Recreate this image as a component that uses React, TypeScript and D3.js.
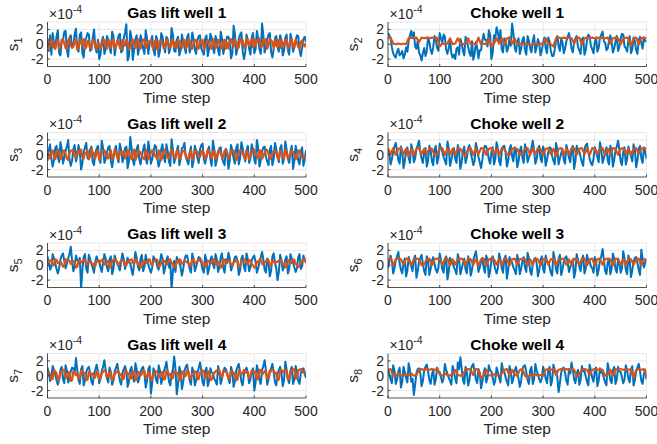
import React from "react";
import * as d3 from "d3";

// values in units of 1e-4; each series is evenly sampled over time steps 0..500
const X_MAX = 500;
const titles = ["Gas lift well 1", "Choke well 1", "Gas lift well 2", "Choke well 2", "Gas lift well 3", "Choke well 3", "Gas lift well 4", "Choke well 4"];
const yTicks = [-2, 0, 2];
const xTicks = [0, 100, 200, 300, 400, 500];

const blue1 = [0.8,-0.9,1.2,-1.4,1.5,0.2,-0.6,1.1,1.9,-1.2,-1.5,0.4,0.6,1.7,1.8,-0.8,-1.7,0.9,1.2,-0.5,
-0.3,1.4,2.1,-0.6,-1.0,1.3,1.6,-1.2,-1.8,0.5,0.9,1.5,1.3,-0.9,-0.7,0.8,2.0,-0.4,-1.1,0.6,
-2.0,-1.4,0.5,1.0,-1.3,-0.6,1.1,0.7,-0.4,-1.2,1.7,1.1,-1.5,-0.3,0.3,1.2,1.4,-1.1,-0.9,0.8,
1.6,2.7,-2.2,-1.6,1.8,0.9,-2.1,-0.7,0.7,1.2,-1.4,-0.5,1.2,0.6,-0.6,-1.3,1.9,0.8,-1.3,0.2,
0.4,1.1,-0.8,-1.5,1.1,0.6,-1.7,-0.9,1.5,1.0,-0.2,-1.1,1.0,0.7,-1.2,-0.6,2.2,1.3,-0.9,-1.0,
0.6,1.0,-1.5,-0.8,1.3,0.4,-0.4,-1.2,0.9,1.4,-1.1,-0.5,1.6,0.7,-0.7,-1.3,0.5,1.1,1.2,-0.6,
-1.0,-1.4,0.8,1.2,-1.6,-0.7,1.4,0.9,-0.5,-1.2,1.1,0.5,-0.8,-1.5,1.7,0.8,-1.3,-0.4,0.4,1.0,
1.0,0.3,-1.9,-1.2,2.5,1.4,-1.4,-0.6,0.7,1.3,1.6,-0.9,-2.0,-1.1,1.3,0.5,-0.6,-1.4,0.9,1.5,
-1.2,-0.7,1.8,0.8,-0.7,-1.3,2.8,1.2,-1.1,-0.4,0.6,1.3,1.5,-1.0,-1.8,-0.6,0.8,1.1,-0.4,-1.0,
1.2,0.5,-1.5,-0.9,0.9,1.3,-0.8,-1.4,1.4,0.6,-1.0,-0.3,0.5,1.2,1.1,-0.8,-1.6,-0.5,0.7,1.0,0.3];
const orange1 = [0.5,-0.6,-0.2,0.7,0.4,-0.4,-0.6,0.2,0.6,-0.7,-0.3,0.6,0.7,0.1,-0.5,-0.6,0.5,0.8,-0.2,-0.4,
-0.3,0.4,0.6,-0.7,-0.5,0.6,0.3,-0.2,0.7,-0.6,-0.4,0.5,0.3,-0.6,-0.1,0.6,0.5,-0.4,-0.7,0.2,
0.1,-0.6,-0.2,0.7,0.5,-0.3,-0.6,0.6,0.4,-0.5,0.2,0.7,-0.6,-0.3,0.5,0.4,-0.5,-0.7,0.6,0.2,
-0.2,0.6,0.3,-0.7,-0.4,0.3,0.6,-0.1,-0.5,0.5,0.7,-0.4,-0.6,0.2,0.5,0.7,-0.5,-0.3,0.4,0.2,
0.6,-0.3,-0.6,0.4,0.6,-0.7,-0.3,0.5,0.4,0.1,-0.6,-0.4,0.7,0.3,-0.2,-0.5,0.6,0.3,-0.4,0.3,
-0.5,0.6,0.4,-0.1,-0.5,0.4,0.6,-0.6,-0.3,0.7,0.5,-0.3,-0.6,0.2,0.5,0.6,-0.4,-0.6,0.5,0.2,
0.6,-0.7,-0.3,0.3,0.6,0.1,-0.4,-0.6,0.7,0.4,-0.5,-0.2,0.6,0.3,-0.2,-0.6,0.4,0.6,-0.6,0.2,
-0.6,0.5,0.7,0.2,-0.3,0.6,0.2,-0.6,-0.4,0.8,0.4,0.6,-0.5,-0.2,0.6,0.7,-0.2,0.3,0.7,-0.4,
0.7,-0.2,0.5,0.6,0.8,-0.4,-0.3,0.6,0.2,0.7,-0.6,-0.1,0.7,0.5,0.3,-0.5,0.6,-0.2,-0.3,0.6,
-0.5,0.6,-0.3,0.2,0.4,0.7,-0.6,-0.3,0.5,0.6,-0.2,-0.4,0.6,0.2,-0.4,-0.6,0.3,0.5,0.1,-0.3,0.1];
const blue2 = [1.5,1.2,0.8,-0.4,-1.2,-1.6,-1.8,-1.0,-0.6,-1.5,-1.3,-0.9,-1.9,-1.4,-0.4,-1.0,0.5,1.2,1.8,0.9,
1.6,-0.3,-0.6,0.5,-1.1,-1.5,-2.2,-1.2,-0.5,-1.6,-0.9,0.9,0.3,-0.8,-1.3,-0.4,1.1,0.6,-0.5,-0.9,
1.5,0.8,0.2,1.3,1.0,-0.7,-1.3,-0.5,0.6,-1.2,-1.8,-1.4,-2.0,-0.6,-0.4,-1.4,0.7,0.2,-0.9,-1.5,
1.0,0.4,-0.3,-1.2,-1.6,0.4,-2.1,-1.3,0.3,-0.5,-1.9,-0.8,-0.8,0.5,1.4,0.6,0.6,-0.3,1.9,1.2,
-2.0,-1.2,1.2,0.8,2.3,1.6,0.5,1.9,-0.7,-1.1,0.8,0.3,-1.0,-0.5,0.9,-0.2,2.8,1.5,-0.4,-1.0,
0.3,0.8,-1.3,-0.6,0.6,1.0,-0.8,-1.4,1.1,0.5,-0.6,-1.1,0.4,1.2,-1.1,-0.4,0.7,0.1,-1.5,-0.8,
0.2,0.9,-0.5,-1.2,0.9,0.4,-0.9,-1.6,-1.6,-0.7,0.5,1.1,-0.3,-0.9,0.8,0.3,-1.2,-0.6,0.4,1.0,
1.5,0.7,-0.6,-1.1,0.2,0.8,1.1,-0.4,-0.8,-1.3,0.7,0.9,-1.4,-0.8,0.6,1.3,1.0,-0.2,-0.7,-1.2,
0.3,0.9,-1.0,-0.5,0.9,1.3,1.7,0.4,0.2,-0.8,-0.6,0.5,1.2,0.3,-1.1,-0.6,0.4,1.1,-0.9,-0.4,
0.8,1.4,1.3,-0.3,-0.5,-1.0,0.6,1.1,-1.2,-0.7,0.9,0.4,-0.8,-1.3,0.6,1.0,0.2,-0.6,0.9,0.4,0.5];
const orange2 = [0.8,0.9,0.1,0.0,0.1,0.0,0.1,0.0,0.8,0.9,0.8,0.9,0.3,0.9,0.8,0.9,0.8,0.9,0.8,0.9,-0.3,0.1,0.0,0.1,0.8,0.0,0.1,0.8,0.1,0.0,0.1,0.8,0.0,0.1,0.0,0.9,0.0,0.1,0.0,0.8,-0.3,0.1,0.8,0.1,0.8,0.0,0.8,0.9,0.1,0.8,0.0,0.1,0.0,0.1,0.0,-0.1,0.0,0.1,0.0,0.1,0.0,0.8,0.1,0.0,-0.3,0.8,0.9,0.8,0.9,0.8,0.9,0.8,0.1,0.8,0.9,0.0,0.8,0.9,0.8,0.9,0.8,0.9,0.8,0.9,0.8,0.9,0.1,0.8,0.9,0.8,0.0,0.8,0.9,0.8,-0.2,0.8,0.9,0.0,0.8,0.9,0.8];
const blue3 = [-0.8,0.6,1.4,-0.5,-1.6,-0.7,0.9,1.2,-0.3,-1.0,1.7,0.8,-1.2,-0.4,0.5,1.1,2.0,-0.6,-1.5,-0.8,
0.7,1.3,-0.9,-0.2,1.3,0.4,-2.0,-1.1,0.4,1.0,1.6,-0.5,-0.6,0.7,1.1,-1.0,-1.4,0.3,0.8,1.2,
-0.5,-1.1,1.9,0.9,-1.1,-0.6,0.3,1.0,1.2,-0.8,-1.7,-0.5,0.6,1.2,-0.4,-1.0,1.5,0.6,-1.0,-0.3,
0.9,1.1,-1.8,-0.9,2.4,1.0,-0.7,-1.4,0.2,0.8,1.3,-0.6,-1.3,-0.2,0.7,1.4,-0.5,-1.2,1.8,0.6,
-1.2,-0.6,0.4,1.3,1.1,-0.5,-1.6,-0.9,0.8,1.4,-0.3,-1.0,1.4,0.5,-0.9,-1.5,2.1,0.7,-1.1,-0.4,
0.5,1.2,-1.4,-0.6,0.9,1.0,1.6,-0.3,-0.8,-1.3,0.3,1.1,-1.7,-0.8,1.2,0.5,-0.4,-1.1,0.7,1.3,
1.5,-0.6,-1.2,-0.3,0.6,1.1,-0.6,-1.5,1.9,0.8,-1.5,-0.7,0.2,0.9,1.0,-0.4,-1.0,-1.4,0.8,0.3,
-1.9,-0.8,1.3,0.6,-0.5,-1.2,0.9,1.4,-1.3,-0.5,1.7,0.9,-0.2,-0.9,0.6,1.2,-1.1,-0.5,1.4,0.7,
-0.7,-1.2,2.0,0.9,-1.6,-0.8,0.4,1.0,1.1,-0.3,-0.9,-1.4,0.7,1.2,-1.4,-0.6,1.6,0.8,-0.3,-1.0,
0.9,1.3,-1.2,-0.5,1.8,0.7,-0.6,-1.1,0.5,1.2,-1.9,-0.8,1.2,0.4,-0.8,-1.3,0.4,1.0,-1.5,-0.6,0.6];
const orange3 = [0.3,-0.4,-0.5,0.4,0.6,-0.2,-0.6,0.3,0.7,0.1,-0.6,-0.3,0.4,0.6,0.1,-0.5,-0.7,0.2,0.5,0.6,
0.6,-0.2,-0.4,0.5,0.2,0.6,0.7,-0.3,-0.5,0.2,0.3,0.6,-0.6,-0.2,0.8,0.3,-0.1,-0.5,0.4,0.6,
-0.7,-0.3,0.5,0.6,0.6,0.1,-0.3,-0.5,0.2,0.6,-0.6,-0.2,0.7,0.3,-0.4,-0.6,0.5,0.2,0.1,0.5,
-0.5,-0.2,0.6,0.4,-0.2,-0.6,0.4,0.7,-0.7,-0.3,0.6,0.4,0.3,-0.2,-0.4,-0.6,0.7,0.3,-0.6,-0.1,
0.2,0.6,0.5,-0.1,-0.3,-0.6,0.6,0.3,-0.7,-0.2,0.4,0.7,0.1,-0.4,-0.5,0.3,0.7,0.2,-0.2,-0.5,
0.5,0.6,-0.6,-0.3,0.3,0.5,0.6,-0.2,-0.4,-0.6,0.2,0.6,-0.7,-0.2,0.5,0.6,0.4,-0.3,-0.3,0.2,
0.6,0.2,-0.5,-0.3,0.7,0.4,-0.1,-0.5,0.3,0.6,-0.6,-0.2,0.5,0.6,0.2,-0.3,-0.4,0.5,0.7,0.3,
-0.5,-0.2,0.4,0.6,0.6,0.1,-0.7,-0.3,0.2,0.6,0.5,0.3,-0.3,-0.6,0.6,0.2,-0.6,-0.3,0.4,0.6,
0.7,0.2,-0.2,-0.5,0.5,0.6,-0.5,-0.2,0.3,0.7,0.6,0.1,-0.6,-0.3,0.1,0.5,0.5,0.3,-0.4,-0.6,
0.6,0.3,-0.3,-0.5,0.7,0.2,-0.5,-0.2,0.2,0.6,0.4,-0.1,-0.6,-0.3,0.5,0.6,-0.1,-0.4,-0.5,-0.2,-0.3];
const blue4 = [0.9,0.2,-1.3,-0.6,0.4,1.1,1.6,0.5,-0.7,-1.2,1.1,0.6,-1.8,-0.9,0.6,1.0,-0.4,-1.1,1.4,0.7,
-1.0,-0.5,0.8,1.3,1.9,0.4,-0.5,-1.1,0.3,0.9,-1.6,-0.8,1.2,0.6,-0.9,-1.4,0.7,1.2,-1.2,-0.4,
1.5,0.8,0.4,-0.3,-0.8,-1.3,1.8,0.9,-1.5,-0.7,0.2,0.9,-0.6,-1.1,1.3,0.5,-1.9,-1.0,0.5,1.1,
-1.1,-0.4,0.9,1.3,0.3,-0.5,-1.4,-0.8,1.6,0.7,-0.3,-1.0,-1.8,-0.7,0.7,1.2,1.1,0.4,-0.6,-1.2,
0.4,1.0,-1.3,-0.6,1.7,0.8,-0.9,-1.4,0.5,1.1,1.2,0.3,-1.6,-0.8,0.8,1.3,-0.2,-0.9,1.0,0.6,
-1.7,-0.9,0.6,1.1,-0.4,-1.1,1.4,0.7,-1.0,-0.4,0.3,0.9,1.9,0.6,-1.2,-0.6,0.7,1.2,-0.5,-1.0,
1.1,0.5,-1.5,-0.7,0.4,1.0,0.9,-0.2,-0.8,-1.3,1.6,0.7,-1.3,-0.5,0.2,0.8,-0.7,-1.2,1.3,0.6,
-0.4,-1.0,0.8,1.2,-1.9,-0.9,1.2,0.5,0.5,-0.3,-1.0,-1.5,0.7,1.3,1.5,0.4,-0.6,-1.1,-1.4,-0.5,
1.0,0.4,-0.3,-1.0,1.7,0.8,-1.1,-0.5,0.4,1.0,-0.8,-1.3,1.2,0.6,-1.6,-0.7,0.6,1.1,1.9,0.7,
-0.9,-1.4,0.5,1.0,-1.3,-0.6,1.1,0.5,-0.2,-0.9,1.4,0.7,-1.7,-0.8,0.8,1.2,-0.5,-1.1,1.0,0.4,-0.6];
const orange4 = [0.8,0.1,0.9,0.0,0.8,0.9,0.1,0.8,-0.3,0.8,0.0,0.8,0.9,0.1,0.8,0.0,0.9,0.8,0.0,0.1,0.8,0.9,0.0,0.8,0.1,0.8,0.0,0.9,0.8,0.1,-0.2,0.8,0.9,0.0,0.8,0.1,0.9,0.8,0.0,0.8,0.9,0.1,0.8,0.0,0.9,0.8,0.1,0.0,0.8,0.9,0.8,0.0,0.1,0.8,0.9,0.0,0.8,0.1,0.9,0.8,0.0,0.8,0.9,0.1,0.8,-0.2,0.8,0.9,0.0,0.8,0.1,0.8,0.9,0.0,0.8,0.9,0.1,0.8,0.0,0.9,0.8,0.1,0.8,0.9,0.0,0.8,0.1,0.9,0.8,0.0,0.8,0.9,0.1,0.8,0.0,0.8,0.9,0.1,0.8,0.9,0.8];
const blue5 = [1.2,0.4,-0.6,-0.2,1.5,0.9,0.3,-0.5,-1.1,-0.4,0.8,1.3,1.6,0.6,-0.4,0.2,0.9,1.5,2.5,0.7,
-0.8,-0.2,1.3,0.7,0.5,1.0,-3.2,-0.6,1.1,1.5,-0.5,-1.0,1.4,0.8,0.2,-0.4,-1.0,0.5,1.2,0.6,
0.6,-0.3,-0.9,0.4,1.5,0.9,-0.3,-0.8,0.8,1.2,-1.2,-0.5,1.3,0.7,0.4,-0.2,-0.7,0.6,1.6,0.8,
-0.5,0.3,1.0,0.4,0.3,-0.6,-1.3,0.2,1.8,1.0,-0.2,-0.7,0.9,1.4,-0.8,-0.2,1.4,0.6,0.1,-0.5,
-1.0,-0.3,1.2,0.8,0.6,-0.2,-0.6,0.5,1.5,0.9,-1.1,-0.4,0.7,1.2,-0.3,0.4,-3.2,-0.9,0.6,-0.9,
1.1,0.6,0.4,-0.3,-1.4,-0.5,0.8,1.3,1.3,0.4,-0.5,-1.0,1.6,0.8,-0.8,-0.2,0.5,1.1,1.0,0.3,
-0.6,-1.0,1.4,0.7,-1.2,-0.5,0.7,1.2,0.2,-0.4,1.5,0.8,-0.9,-0.3,1.1,1.6,-0.4,-1.0,0.8,0.3,
1.7,0.9,-0.7,-0.2,0.4,1.1,1.2,0.5,-1.3,-0.7,0.9,1.3,-0.2,-0.8,1.6,0.8,-0.8,-0.3,0.6,1.1,
1.3,0.5,-1.0,-0.4,0.5,1.1,1.8,0.8,-0.6,-1.0,0.9,0.3,-1.5,-0.7,1.2,1.6,0.3,-0.4,-2.0,-0.9,
1.4,0.7,-0.7,-0.2,0.8,1.2,-1.1,-0.5,1.5,0.9,0.4,-0.3,-0.9,-0.4,1.1,1.5,-0.5,-0.1,1.3,0.7,0.6];
const orange5 = [0.4,0.5,0.6,0.7,0.1,0.0,0.8,0.7,0.3,0.4,0.5,0.2,-0.2,-0.1,0.8,0.7,0.7,0.6,0.2,0.3,
0.5,0.4,-0.3,-0.2,0.6,0.5,0.4,0.5,0.8,0.7,0.1,0.2,0.5,0.4,0.3,0.2,-0.2,-0.1,0.6,0.5,
0.4,0.5,0.7,0.8,0.1,0.2,0.5,0.6,-0.3,-0.2,0.6,0.7,0.8,0.7,0.2,0.1,0.4,0.5,0.6,0.6,
-0.1,0.0,0.5,0.6,0.7,0.8,0.3,0.2,0.8,0.7,0.1,0.2,-0.3,-0.2,0.6,0.5,0.4,0.3,0.7,0.8,
0.2,0.1,0.5,0.6,0.8,0.7,-0.2,-0.1,0.4,0.5,0.6,0.5,0.1,0.2,0.7,0.8,0.3,0.2,-0.3,-0.2,
0.5,0.4,0.8,0.7,0.2,0.3,0.6,0.5,0.4,0.3,-0.1,0.0,0.7,0.8,0.3,0.4,0.5,0.6,0.8,0.7,
0.1,0.2,-0.2,-0.1,0.6,0.5,0.4,0.3,0.7,0.8,0.2,0.1,0.5,0.4,-0.3,-0.2,0.8,0.7,0.3,0.4,
0.6,0.5,0.1,0.0,0.4,0.5,0.7,0.6,-0.2,-0.1,0.5,0.6,0.8,0.7,0.3,0.2,0.6,0.7,0.1,0.0,
-0.3,-0.2,0.5,0.4,0.7,0.8,0.2,0.1,0.4,0.5,0.8,0.7,-0.1,0.0,0.6,0.5,0.3,0.4,0.5,0.6,
0.7,0.6,0.1,0.2,-0.3,-0.2,0.6,0.7,0.4,0.3,0.8,0.7,0.2,0.1,-0.2,-0.1,0.5,0.6,0.7,0.8,0.3];
const blue6 = [-0.4,0.5,1.3,0.6,-1.1,-0.4,0.7,1.2,1.8,0.3,-0.6,-1.1,0.3,0.9,-1.5,-0.7,1.1,0.5,-0.2,-0.8,
0.9,1.3,-1.7,-0.8,0.5,1.0,1.4,0.2,-0.8,-1.3,1.2,0.6,-1.3,-0.5,0.6,1.1,0.2,-0.6,-1.0,-0.3,
1.6,0.7,-0.5,-1.0,0.8,1.2,-1.9,-0.9,1.0,0.4,0.4,-0.3,-0.7,-1.2,1.5,0.8,-1.2,-0.5,0.3,0.9,
-0.6,-1.1,1.2,0.5,-1.4,-0.6,0.7,1.3,1.9,0.6,-0.9,-0.3,0.5,1.0,-0.3,-1.0,1.3,0.7,-1.6,-0.8,
0.8,1.2,0.2,-0.5,-1.1,-0.4,1.6,0.8,-0.4,-1.0,0.9,1.3,-1.8,-0.7,1.1,0.6,0.4,-0.3,-0.7,-1.2,
1.4,0.6,-1.2,-0.5,0.6,1.1,-0.3,-0.9,1.7,0.9,-0.8,-1.3,0.2,0.8,1.0,0.3,-1.5,-0.7,0.7,1.2,
-0.5,-1.0,1.3,0.6,0.4,-0.2,-1.0,-1.4,1.8,0.9,-0.6,-1.1,0.9,1.4,-1.3,-0.6,0.5,1.0,1.2,0.4,
-0.9,-0.3,0.3,0.8,-1.7,-0.8,1.5,0.7,-0.2,-0.8,0.8,1.3,-1.1,-0.5,1.4,0.6,0.6,-0.2,-0.4,-1.0,
1.1,0.5,-1.4,-0.6,0.7,1.2,2.2,0.8,-0.8,-1.2,0.4,0.9,-1.2,-0.5,1.6,0.9,-0.5,-1.0,0.9,0.4,
-1.0,-0.4,1.9,0.9,-0.6,-1.2,1.3,0.6,-1.6,-0.7,0.5,1.0,1.1,0.3,-0.7,-1.3,2.1,0.9,-0.3,0.4,0.8];
const orange6 = [0.8,0.9,0.0,0.8,0.9,0.8,0.1,0.9,0.8,0.0,0.8,0.9,0.8,0.0,0.1,0.8,0.9,0.0,0.8,0.9,0.8,0.1,0.8,0.9,0.0,0.8,0.1,0.8,0.9,0.8,0.0,0.9,0.8,0.1,0.8,0.0,0.8,0.9,0.0,0.8,0.9,0.8,0.1,0.8,0.0,0.9,0.8,0.0,0.8,0.9,0.1,0.8,0.9,0.8,0.0,0.8,0.1,0.9,0.8,0.0,0.8,0.9,0.1,0.8,0.9,0.0,0.8,0.9,0.8,0.1,0.8,0.0,0.9,0.8,0.1,0.8,0.9,0.0,0.8,0.9,0.0,0.8,0.9,0.1,0.8,0.9,0.8,0.0,0.9,0.8,0.1,0.8,0.0,0.9,0.8,0.1,0.8,0.9,0.0,0.8,0.8];
const blue7 = [1.1,0.4,-0.7,-0.2,1.3,0.8,0.2,-0.6,-1.2,-0.5,0.8,1.2,-0.5,-1.0,1.4,0.7,-0.9,-0.3,0.6,1.1,
1.0,0.3,2.4,0.8,-0.6,-1.1,0.9,1.3,-1.3,-0.6,0.5,1.0,1.2,0.4,-0.8,-1.2,0.3,0.8,1.5,0.6,
-1.0,-0.4,0.7,1.2,2.1,0.8,-0.4,-0.9,1.1,0.5,-1.2,-0.6,0.6,1.1,1.6,0.5,-0.7,-1.2,0.4,0.9,
1.3,0.6,-1.5,-0.8,0.8,1.2,-0.2,-0.8,1.7,0.9,-0.9,-0.4,0.5,1.0,1.2,0.3,-1.6,-0.7,0.9,1.3,
-2.4,-1.0,1.0,0.5,-0.5,-1.0,1.4,0.7,-1.1,-0.4,0.6,1.1,1.9,0.6,-0.8,-1.3,0.3,0.8,2.6,1.0,
-2.5,-1.2,1.2,0.5,-1.8,-0.9,0.7,1.2,1.5,0.4,-0.6,-1.2,1.1,0.5,-1.3,-0.6,0.4,1.0,1.8,0.7,
-0.9,-1.3,0.6,1.1,-1.4,-0.7,1.0,0.5,0.3,-0.4,-0.7,-1.2,1.3,0.6,-1.1,-0.4,0.5,1.1,0.9,0.2,
-0.4,-1.0,1.2,0.6,-1.5,-0.7,0.7,1.2,1.6,0.5,-0.8,-1.3,0.2,0.7,1.1,0.4,-1.0,-0.5,0.6,1.0,
-2.0,-0.9,1.4,0.7,-0.6,-1.1,0.8,1.3,2.1,0.8,-1.2,-0.5,0.5,1.0,1.6,0.5,-0.9,-1.3,0.3,0.8,
1.2,0.4,-1.4,-0.6,1.9,0.8,-0.5,-1.0,0.7,1.2,-1.1,-0.5,1.3,0.6,-0.7,-1.1,0.4,0.9,1.0,0.3,-0.3];
const orange7 = [0.6,0.5,0.2,-0.5,-0.4,0.7,0.6,0.3,-0.6,-0.5,0.5,0.6,0.8,0.7,-0.3,-0.2,0.4,0.5,-0.7,-0.6,
0.6,0.5,0.1,0.2,-0.4,-0.3,0.7,0.6,0.3,0.4,-0.6,-0.5,0.5,0.4,0.2,0.3,-0.3,-0.2,0.6,0.5,
-0.5,-0.4,0.4,0.5,0.7,0.6,-0.2,-0.1,0.5,0.4,-0.6,-0.5,0.3,0.4,0.6,0.5,0.1,0.2,-0.5,-0.4,
0.7,0.6,0.2,0.3,-0.4,-0.3,0.6,0.5,-0.6,-0.5,0.4,0.5,0.1,0.2,0.7,0.6,-0.3,-0.2,0.5,0.4,
-0.6,-0.5,0.3,0.4,0.6,0.5,-0.2,-0.1,0.4,0.5,-0.5,-0.4,0.7,0.6,0.1,0.2,-0.4,-0.3,0.6,0.5,
0.3,0.4,-0.6,-0.5,0.5,0.6,-0.1,0.0,0.7,0.6,-0.4,-0.3,0.2,0.3,0.6,0.5,-0.5,-0.4,0.4,0.5,
0.7,0.6,-0.3,-0.2,0.5,0.6,-0.6,-0.5,0.2,0.3,0.6,0.7,0.8,0.7,-0.2,-0.1,0.7,0.6,0.5,0.4,
-0.4,-0.3,0.6,0.5,0.3,0.4,-0.6,-0.5,0.7,0.6,0.2,0.3,0.8,0.7,0.4,0.5,-0.3,-0.2,0.7,0.6,
0.5,0.6,-0.5,-0.4,0.8,0.7,0.2,0.3,0.6,0.7,-0.4,-0.3,0.7,0.6,0.8,0.7,0.3,0.4,-0.6,-0.5,
0.7,0.8,0.5,0.6,0.8,0.7,-0.5,-0.4,0.6,0.7,0.8,0.9,-0.4,-0.3,0.7,0.8,0.9,0.8,0.4,0.5,0.4];
const blue8 = [0.9,0.3,-0.5,-1.0,1.4,0.7,-1.1,-0.5,0.6,1.1,-1.6,-0.8,1.2,0.5,-0.3,-0.9,1.7,0.8,-0.8,-0.4,
-2.6,-1.2,0.4,0.9,1.0,0.4,-1.4,-0.7,0.7,1.2,1.5,0.6,-0.6,-1.1,0.2,0.8,-1.2,-0.5,1.1,0.6,
0.5,-0.2,-0.9,-0.4,1.6,0.8,0.3,-0.3,-0.7,-1.2,1.3,0.6,-0.4,-1.0,1.8,0.9,2.5,1.0,-0.6,-1.1,
1.2,0.5,-1.3,-0.6,0.8,1.3,1.6,0.6,-0.5,-1.0,0.9,0.4,-1.7,-0.8,0.4,1.0,-0.9,-0.3,1.4,0.7,
0.6,-0.2,-1.2,-0.6,1.1,0.5,-0.3,-0.9,1.7,0.8,0.5,-0.2,-0.8,-1.3,1.3,0.6,-1.0,-0.4,0.7,1.2,
0.3,-0.4,-1.5,-0.7,0.9,1.3,1.4,0.5,-0.6,-1.1,0.8,1.2,-1.1,-0.5,1.6,0.7,0.2,-0.5,-0.9,-0.3,
1.2,0.6,-0.4,-1.0,0.7,1.2,-1.3,-0.6,1.5,0.8,0.6,-0.2,-2.2,-1.0,0.4,1.0,1.1,0.4,-0.7,-1.2,
0.9,0.3,1.8,0.8,-0.5,-1.0,0.3,0.8,-1.2,-0.6,1.3,0.6,0.7,-0.1,-0.8,-1.3,1.5,0.7,-0.3,-0.8,
0.6,1.1,-1.4,-0.7,1.0,0.4,0.4,-0.3,-0.9,-1.3,1.7,0.8,-0.6,-1.0,0.8,1.2,-1.1,-0.5,1.2,0.6,
0.5,-0.2,-1.0,-0.5,1.4,0.7,-0.4,-0.9,0.9,1.3,-1.3,-0.6,0.6,1.1,1.6,0.6,-0.7,-1.1,0.3,0.8,-0.5];
const orange8 = [0.8,0.9,0.1,0.0,0.3,0.1,0.0,0.2,0.1,0.3,0.0,0.1,0.8,0.9,0.8,0.9,0.8,0.9,0.8,0.9,0.2,0.0,0.3,0.1,0.0,0.3,0.8,0.1,0.0,0.2,0.8,0.9,0.8,0.1,0.9,0.8,-0.3,0.0,0.8,0.1,0.0,0.2,0.1,0.0,0.3,0.8,0.9,0.0,0.8,0.2,0.0,0.8,0.9,0.0,-0.3,0.1,0.0,0.2,0.0,0.1,0.0,0.8,0.9,0.8,0.9,0.1,0.8,0.9,0.8,0.9,0.8,0.9,0.8,0.0,0.2,0.8,0.9,0.8,0.1,0.8,0.9,0.8,0.9,0.8,0.0,0.1,0.8,0.0,0.9,0.8,0.9,0.8,0.9,0.8,0.9,-0.3,0.8,0.9,0.8,0.9,0.0];

const blues = [blue1, blue2, blue3, blue4, blue5, blue6, blue7, blue8];
const oranges = [orange1, orange2, orange3, orange4, orange5, orange6, orange7, orange8];

const W = 657, H = 444;
const colLeft = [47.5, 388];
const axW = 258.5;
const rowTop = [22, 132.5, 243, 353.5];
const axH = 44.5;
const TXT = "#262626";
const GRID = "#e2e2e2";
const FONT = "'Liberation Sans', Arial, Helvetica, sans-serif";

function Panel({ idx }: { idx: number }) {
  const col = idx % 2, row = Math.floor(idx / 2);
  const left = colLeft[col], top = rowTop[row];
  const x = d3.scaleLinear().domain([0, X_MAX]).range([left, left + axW]);
  const y = d3.scaleLinear().domain([-3, 3]).range([top + axH, top]);
  const mkLine = (arr: number[]) => {
    const step = X_MAX / (arr.length - 1);
    return d3.line<number>().x((_, i) => x(i * step)).y((d) => y(d))(arr) || "";
  };
  const clipId = `clip${idx}`;
  return (
    <g>
      <defs>
        <clipPath id={clipId}>
          <rect x={left} y={top} width={axW} height={axH} />
        </clipPath>
      </defs>
      <rect x={left} y={top} width={axW} height={axH} fill="#fff" />
      {xTicks.map((t) => (
        <line key={"gx" + t} x1={x(t)} x2={x(t)} y1={top} y2={top + axH} stroke={GRID} strokeWidth={0.8} />
      ))}
      {yTicks.map((t) => (
        <line key={"gy" + t} x1={left} x2={left + axW} y1={y(t)} y2={y(t)} stroke={GRID} strokeWidth={0.8} />
      ))}
      <line x1={left} x2={left + axW} y1={top} y2={top} stroke={GRID} strokeWidth={0.8} />
      <g clipPath={`url(#${clipId})`}>
        <path d={mkLine(blues[idx])} fill="none" stroke="#0072BD" strokeWidth={2} strokeLinejoin="round" />
        <path d={mkLine(oranges[idx])} fill="none" stroke="#D95319" strokeWidth={2.2} strokeLinejoin="round" />
      </g>
      <line x1={left} x2={left + axW} y1={top + axH} y2={top + axH} stroke={TXT} strokeWidth={0.8} />
      <line x1={left} x2={left} y1={top} y2={top + axH} stroke={TXT} strokeWidth={0.8} />
      {xTicks.map((t) => (
        <g key={"xt" + t}>
          <line x1={x(t)} x2={x(t)} y1={top + axH} y2={top + axH - 2.5} stroke={TXT} strokeWidth={0.8} />
          <text x={x(t)} y={top + axH + 17.5} textAnchor="middle" fontSize={14} fill={TXT}>{t}</text>
        </g>
      ))}
      {yTicks.map((t) => (
        <g key={"yt" + t}>
          <line x1={left} x2={left + 2.5} y1={y(t)} y2={y(t)} stroke={TXT} strokeWidth={0.8} />
          <text x={left - 4} y={y(t) + 5} textAnchor="end" fontSize={14} fill={TXT}>{t}</text>
        </g>
      ))}
      <text x={left + 1.5} y={top - 3.5} fontSize={14} fill={TXT}>
        ×10<tspan dy={-6} fontSize={10.5}>-4</tspan>
      </text>
      <text x={left + axW / 2} y={top - 4} textAnchor="middle" fontSize={15.5} fontWeight="bold" fill="#000">{titles[idx]}</text>
      <text x={left + axW / 2} y={top + axH + 36} textAnchor="middle" fontSize={15.5} fill={TXT}>Time step</text>
      <text transform={`translate(${left - 30},${top + axH / 2}) rotate(-90)`} textAnchor="middle" fontSize={15.5} fill={TXT}>
        s<tspan dy={4} fontSize={11}>{idx + 1}</tspan>
      </text>
    </g>
  );
}

export default function App() {
  return (
    <svg width={W} height={H} style={{ position: "absolute", left: 0, top: 0, background: "#fff", fontFamily: FONT }}>
      <rect width={W} height={H} fill="#fff" />
      {d3.range(8).map((i) => <Panel key={i} idx={i} />)}
    </svg>
  );
}
